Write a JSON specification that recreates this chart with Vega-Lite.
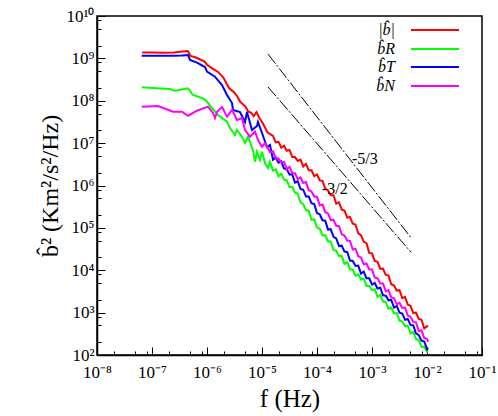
{
"$schema":"https://vega.github.io/schema/vega-lite/v6.json",
"width":385,"height":339,
"autosize":{"type":"none"},
"padding":{"left":97,"top":16,"right":16,"bottom":61},
"config":{"view":{"stroke":"black","strokeWidth":1.5},"font":"Liberation Serif"},
"datasets":{
"spectra":[
{"series":"|b\u0302|","f":6.607e-8,"P":1.380e9},{"series":"|b\u0302|","f":1e-7,"P":1.380e9},{"series":"|b\u0302|","f":1.585e-7,"P":1.365e9},{"series":"|b\u0302|","f":2.512e-7,"P":1.380e9},{"series":"|b\u0302|","f":3.548e-7,"P":1.445e9},{"series":"|b\u0302|","f":4.467e-7,"P":1.496e9},{"series":"|b\u0302|","f":5.012e-7,"P":1.148e9},{"series":"|b\u0302|","f":6.310e-7,"P":1.047e9},{"series":"|b\u0302|","f":8.913e-7,"P":8.511e8},{"series":"|b\u0302|","f":1e-6,"P":7.079e8},{"series":"|b\u0302|","f":1.259e-6,"P":5.754e8},{"series":"|b\u0302|","f":1.585e-6,"P":4.786e8},{"series":"|b\u0302|","f":1.995e-6,"P":3.467e8},{"series":"|b\u0302|","f":2.512e-6,"P":1.995e8},{"series":"|b\u0302|","f":3.162e-6,"P":1.549e8},{"series":"|b\u0302|","f":3.548e-6,"P":1.259e8},{"series":"|b\u0302|","f":3.981e-6,"P":9.550e7},{"series":"|b\u0302|","f":4.467e-6,"P":8.318e7},{"series":"|b\u0302|","f":5.012e-6,"P":7.244e7},{"series":"|b\u0302|","f":5.623e-6,"P":5.495e7},{"series":"|b\u0302|","f":6.310e-6,"P":5.248e7},{"series":"|b\u0302|","f":7.079e-6,"P":4.365e7},{"series":"|b\u0302|","f":7.943e-6,"P":5.370e7},{"series":"|b\u0302|","f":8.913e-6,"P":3.981e7},{"series":"|b\u0302|","f":1e-5,"P":3.162e7},{"series":"|b\u0302|","f":1.122e-5,"P":2.399e7},{"series":"|b\u0302|","f":1.259e-5,"P":1.778e7},{"series":"|b\u0302|","f":1.413e-5,"P":1.622e7},
{"series":"|b\u0302|","f":1.585e-5,"P":1.479e7},{"series":"|b\u0302|","f":1.778e-5,"P":1.047e7},{"series":"|b\u0302|","f":1.995e-5,"P":1.072e7},{"series":"|b\u0302|","f":2.239e-5,"P":7.762e6},{"series":"|b\u0302|","f":2.512e-5,"P":8.710e6},{"series":"|b\u0302|","f":2.818e-5,"P":6.607e6},{"series":"|b\u0302|","f":3.162e-5,"P":6.918e6},{"series":"|b\u0302|","f":3.548e-5,"P":4.677e6},{"series":"|b\u0302|","f":3.981e-5,"P":4.677e6},{"series":"|b\u0302|","f":4.467e-5,"P":3.802e6},{"series":"|b\u0302|","f":5.012e-5,"P":4.074e6},{"series":"|b\u0302|","f":5.623e-5,"P":2.818e6},{"series":"|b\u0302|","f":6.310e-5,"P":3.236e6},{"series":"|b\u0302|","f":7.079e-5,"P":2.291e6},{"series":"|b\u0302|","f":7.943e-5,"P":2.291e6},{"series":"|b\u0302|","f":8.913e-5,"P":1.660e6},{"series":"|b\u0302|","f":1e-4,"P":1.820e6},{"series":"|b\u0302|","f":1.122e-4,"P":1.318e6},{"series":"|b\u0302|","f":1.259e-4,"P":1.288e6},{"series":"|b\u0302|","f":1.413e-4,"P":8.318e5},{"series":"|b\u0302|","f":1.585e-4,"P":7.762e5},{"series":"|b\u0302|","f":1.778e-4,"P":5.888e5},{"series":"|b\u0302|","f":1.995e-4,"P":5.888e5},{"series":"|b\u0302|","f":2.239e-4,"P":3.715e5},{"series":"|b\u0302|","f":2.512e-4,"P":3.981e5},{"series":"|b\u0302|","f":2.818e-4,"P":2.692e5},{"series":"|b\u0302|","f":3.162e-4,"P":2.570e5},{"series":"|b\u0302|","f":3.548e-4,"P":1.738e5},{"series":"|b\u0302|","f":3.981e-4,"P":1.820e5},{"series":"|b\u0302|","f":4.467e-4,"P":1.259e5},{"series":"|b\u0302|","f":5.012e-4,"P":1.202e5},{"series":"|b\u0302|","f":5.623e-4,"P":7.413e4},{"series":"|b\u0302|","f":6.310e-4,"P":6.761e4},{"series":"|b\u0302|","f":7.079e-4,"P":4.677e4},{"series":"|b\u0302|","f":7.943e-4,"P":4.365e4},{"series":"|b\u0302|","f":8.913e-4,"P":2.570e4},{"series":"|b\u0302|","f":1e-3,"P":2.512e4},{"series":"|b\u0302|","f":1.122e-3,"P":1.660e4},{"series":"|b\u0302|","f":1.259e-3,"P":1.585e4},{"series":"|b\u0302|","f":1.413e-3,"P":1.072e4},{"series":"|b\u0302|","f":1.585e-3,"P":1.096e4},{"series":"|b\u0302|","f":1.778e-3,"P":7.762e3},{"series":"|b\u0302|","f":1.995e-3,"P":7.586e3},{"series":"|b\u0302|","f":2.239e-3,"P":4.677e3},{"series":"|b\u0302|","f":2.512e-3,"P":4.365e3},{"series":"|b\u0302|","f":2.818e-3,"P":3.311e3},{"series":"|b\u0302|","f":3.162e-3,"P":3.388e3},{"series":"|b\u0302|","f":3.548e-3,"P":2.188e3},{"series":"|b\u0302|","f":3.981e-3,"P":2.344e3},{"series":"|b\u0302|","f":4.467e-3,"P":1.549e3},{"series":"|b\u0302|","f":5.012e-3,"P":1.445e3},{"series":"|b\u0302|","f":5.623e-3,"P":977},{"series":"|b\u0302|","f":6.310e-3,"P":1000},{"series":"|b\u0302|","f":7.079e-3,"P":708},{"series":"|b\u0302|","f":7.943e-3,"P":676},{"series":"|b\u0302|","f":8.913e-3,"P":427},{"series":"|b\u0302|","f":1e-2,"P":479},{"series":"|b\u0302|","f":1.047e-2,"P":468},
{"series":"b\u0302R","f":6.50e-8,"P":2.075e8},{"series":"b\u0302R","f":1.233e-7,"P":1.968e8},{"series":"b\u0302R","f":2.123e-7,"P":1.892e8},{"series":"b\u0302R","f":2.618e-7,"P":1.726e8},{"series":"b\u0302R","f":4.519e-7,"P":1.968e8},{"series":"b\u0302R","f":5.559e-7,"P":1.368e8},{"series":"b\u0302R","f":8.453e-7,"P":1.143e8},{"series":"b\u0302R","f":1e-6,"P":9.506e7},{"series":"b\u0302R","f":1.233e-6,"P":6.745e7},{"series":"b\u0302R","f":1.585e-6,"P":4.613e7},{"series":"b\u0302R","f":2.312e-6,"P":3.206e7},{"series":"b\u0302R","f":2.618e-6,"P":2.275e7},{"series":"b\u0302R","f":3.228e-6,"P":1.556e7},{"series":"b\u0302R","f":3.508e-6,"P":2.042e7},{"series":"b\u0302R","f":4.325e-6,"P":1.419e7},{"series":"b\u0302R","f":4.909e-6,"P":1.007e7},{"series":"b\u0302R","f":5.559e-6,"P":1.419e7},{"series":"b\u0302R","f":6.855e-6,"P":6.887e6},{"series":"b\u0302R","f":7.464e-6,"P":3.648e6},{"series":"b\u0302R","f":8.110e-6,"P":6.281e6},{"series":"b\u0302R","f":9.204e-6,"P":4.0e6},{"series":"b\u0302R","f":1e-5,"P":6.281e6},{"series":"b\u0302R","f":1.135e-5,"P":3.396e6},{"series":"b\u0302R","f":1.285e-5,"P":2.588e6},{"series":"b\u0302R","f":1.396e-5,"P":3.648e6},
{"series":"b\u0302R","f":1.585e-5,"P":2.239e6},{"series":"b\u0302R","f":1.778e-5,"P":2.399e6},{"series":"b\u0302R","f":1.995e-5,"P":1.660e6},{"series":"b\u0302R","f":2.239e-5,"P":1.905e6},{"series":"b\u0302R","f":2.512e-5,"P":1.380e6},{"series":"b\u0302R","f":2.818e-5,"P":1.318e6},{"series":"b\u0302R","f":3.162e-5,"P":9.120e5},{"series":"b\u0302R","f":3.548e-5,"P":9.333e5},{"series":"b\u0302R","f":3.981e-5,"P":6.761e5},{"series":"b\u0302R","f":4.467e-5,"P":6.457e5},{"series":"b\u0302R","f":5.012e-5,"P":3.981e5},{"series":"b\u0302R","f":5.623e-5,"P":3.631e5},{"series":"b\u0302R","f":6.310e-5,"P":2.630e5},{"series":"b\u0302R","f":7.079e-5,"P":2.512e5},{"series":"b\u0302R","f":7.943e-5,"P":1.549e5},{"series":"b\u0302R","f":8.913e-5,"P":1.585e5},{"series":"b\u0302R","f":1e-4,"P":1.023e5},{"series":"b\u0302R","f":1.122e-4,"P":9.550e4},{"series":"b\u0302R","f":1.259e-4,"P":6.607e4},{"series":"b\u0302R","f":1.413e-4,"P":6.761e4},{"series":"b\u0302R","f":1.585e-4,"P":4.786e4},{"series":"b\u0302R","f":1.778e-4,"P":4.786e4},{"series":"b\u0302R","f":1.995e-4,"P":3.020e4},{"series":"b\u0302R","f":2.239e-4,"P":2.884e4},{"series":"b\u0302R","f":2.512e-4,"P":2.138e4},{"series":"b\u0302R","f":2.818e-4,"P":2.188e4},{"series":"b\u0302R","f":3.162e-4,"P":1.413e4},{"series":"b\u0302R","f":3.548e-4,"P":1.549e4},{"series":"b\u0302R","f":3.981e-4,"P":1.047e4},{"series":"b\u0302R","f":4.467e-4,"P":1.047e4},{"series":"b\u0302R","f":5.012e-4,"P":7.413e3},{"series":"b\u0302R","f":5.623e-4,"P":8.128e3},{"series":"b\u0302R","f":6.310e-4,"P":6.026e3},{"series":"b\u0302R","f":7.079e-4,"P":6.310e3},{"series":"b\u0302R","f":7.943e-4,"P":4.266e3},{"series":"b\u0302R","f":8.913e-4,"P":4.266e3},{"series":"b\u0302R","f":1e-3,"P":3.388e3},{"series":"b\u0302R","f":1.122e-3,"P":3.548e3},{"series":"b\u0302R","f":1.259e-3,"P":2.344e3},{"series":"b\u0302R","f":1.413e-3,"P":2.630e3},{"series":"b\u0302R","f":1.585e-3,"P":1.820e3},{"series":"b\u0302R","f":1.778e-3,"P":1.778e3},{"series":"b\u0302R","f":1.995e-3,"P":1.230e3},{"series":"b\u0302R","f":2.239e-3,"P":1.318e3},{"series":"b\u0302R","f":2.512e-3,"P":955},{"series":"b\u0302R","f":2.818e-3,"P":977},{"series":"b\u0302R","f":3.162e-3,"P":646},{"series":"b\u0302R","f":3.548e-3,"P":617},{"series":"b\u0302R","f":3.981e-3,"P":479},{"series":"b\u0302R","f":4.467e-3,"P":490},{"series":"b\u0302R","f":5.012e-3,"P":324},{"series":"b\u0302R","f":5.623e-3,"P":347},{"series":"b\u0302R","f":6.310e-3,"P":240},{"series":"b\u0302R","f":7.079e-3,"P":224},{"series":"b\u0302R","f":7.943e-3,"P":155},{"series":"b\u0302R","f":8.913e-3,"P":158},{"series":"b\u0302R","f":1e-2,"P":120},{"series":"b\u0302R","f":1.047e-2,"P":117},
{"series":"b\u0302T","f":6.50e-8,"P":1.156e9},{"series":"b\u0302T","f":1.233e-7,"P":1.148e9},{"series":"b\u0302T","f":2.410e-7,"P":1.161e9},{"series":"b\u0302T","f":3.508e-7,"P":1.175e9},{"series":"b\u0302T","f":4.519e-7,"P":1.202e9},{"series":"b\u0302T","f":4.909e-7,"P":9.162e8},{"series":"b\u0302T","f":6.577e-7,"P":7.943e8},{"series":"b\u0302T","f":9.204e-7,"P":6.252e8},{"series":"b\u0302T","f":1e-6,"P":4.853e8},{"series":"b\u0302T","f":1.396e-6,"P":3.698e8},{"series":"b\u0302T","f":1.875e-6,"P":2.355e8},{"series":"b\u0302T","f":2.312e-6,"P":1.368e8},{"series":"b\u0302T","f":2.851e-6,"P":8.851e7},{"series":"b\u0302T","f":2.972e-6,"P":6.053e7},{"series":"b\u0302T","f":3.981e-6,"P":5.420e7},{"series":"b\u0302T","f":4.909e-6,"P":3.155e7},{"series":"b\u0302T","f":5.333e-6,"P":5.420e7},{"series":"b\u0302T","f":6.577e-6,"P":2.042e7},{"series":"b\u0302T","f":8.110e-6,"P":2.535e7},{"series":"b\u0302T","f":8.453e-6,"P":3.155e7},{"series":"b\u0302T","f":1e-5,"P":1.734e7},{"series":"b\u0302T","f":1.233e-5,"P":8.110e6},{"series":"b\u0302T","f":1.396e-5,"P":9.036e6},
{"series":"b\u0302T","f":1.585e-5,"P":4.074e6},{"series":"b\u0302T","f":1.778e-5,"P":4.571e6},{"series":"b\u0302T","f":1.995e-5,"P":3.467e6},{"series":"b\u0302T","f":2.239e-5,"P":3.715e6},{"series":"b\u0302T","f":2.512e-5,"P":2.512e6},{"series":"b\u0302T","f":2.818e-5,"P":2.399e6},{"series":"b\u0302T","f":3.162e-5,"P":1.820e6},{"series":"b\u0302T","f":3.548e-5,"P":1.820e6},{"series":"b\u0302T","f":3.981e-5,"P":1.175e6},{"series":"b\u0302T","f":4.467e-5,"P":1.259e6},{"series":"b\u0302T","f":5.012e-5,"P":8.318e5},{"series":"b\u0302T","f":5.623e-5,"P":7.943e5},{"series":"b\u0302T","f":6.310e-5,"P":5.495e5},{"series":"b\u0302T","f":7.079e-5,"P":5.495e5},{"series":"b\u0302T","f":7.943e-5,"P":3.802e5},{"series":"b\u0302T","f":8.913e-5,"P":3.631e5},{"series":"b\u0302T","f":1e-4,"P":2.239e5},{"series":"b\u0302T","f":1.122e-4,"P":2.089e5},{"series":"b\u0302T","f":1.259e-4,"P":1.514e5},{"series":"b\u0302T","f":1.413e-4,"P":1.479e5},{"series":"b\u0302T","f":1.585e-4,"P":9.120e4},{"series":"b\u0302T","f":1.778e-4,"P":9.333e4},{"series":"b\u0302T","f":1.995e-4,"P":6.166e4},{"series":"b\u0302T","f":2.239e-4,"P":5.623e4},{"series":"b\u0302T","f":2.512e-4,"P":3.715e4},{"series":"b\u0302T","f":2.818e-4,"P":3.802e4},{"series":"b\u0302T","f":3.162e-4,"P":2.754e4},{"series":"b\u0302T","f":3.548e-4,"P":2.692e4},{"series":"b\u0302T","f":3.981e-4,"P":1.698e4},{"series":"b\u0302T","f":4.467e-4,"P":1.660e4},{"series":"b\u0302T","f":5.012e-4,"P":1.259e4},{"series":"b\u0302T","f":5.623e-4,"P":1.288e4},{"series":"b\u0302T","f":6.310e-4,"P":8.318e3},{"series":"b\u0302T","f":7.079e-4,"P":9.333e3},{"series":"b\u0302T","f":7.943e-4,"P":6.457e3},{"series":"b\u0302T","f":8.913e-4,"P":6.457e3},{"series":"b\u0302T","f":1e-3,"P":4.571e3},{"series":"b\u0302T","f":1.122e-3,"P":5.012e3},{"series":"b\u0302T","f":1.259e-3,"P":3.715e3},{"series":"b\u0302T","f":1.413e-3,"P":3.890e3},{"series":"b\u0302T","f":1.585e-3,"P":2.570e3},{"series":"b\u0302T","f":1.778e-3,"P":2.512e3},{"series":"b\u0302T","f":1.995e-3,"P":1.950e3},{"series":"b\u0302T","f":2.239e-3,"P":1.995e3},{"series":"b\u0302T","f":2.512e-3,"P":1.318e3},{"series":"b\u0302T","f":2.818e-3,"P":1.445e3},{"series":"b\u0302T","f":3.162e-3,"P":1000},{"series":"b\u0302T","f":3.548e-3,"P":955},{"series":"b\u0302T","f":3.981e-3,"P":676},{"series":"b\u0302T","f":4.467e-3,"P":708},{"series":"b\u0302T","f":5.012e-3,"P":513},{"series":"b\u0302T","f":5.623e-3,"P":501},{"series":"b\u0302T","f":6.310e-3,"P":324},{"series":"b\u0302T","f":7.079e-3,"P":295},{"series":"b\u0302T","f":7.943e-3,"P":219},{"series":"b\u0302T","f":8.913e-3,"P":209},{"series":"b\u0302T","f":1e-2,"P":138},{"series":"b\u0302T","f":1.047e-2,"P":148},
{"series":"b\u0302N","f":6.50e-8,"P":7.244e7},{"series":"b\u0302N","f":1.285e-7,"P":7.516e7},{"series":"b\u0302N","f":2.410e-7,"P":5.521e7},{"series":"b\u0302N","f":3.508e-7,"P":5.521e7},{"series":"b\u0302N","f":4.519e-7,"P":4.436e7},{"series":"b\u0302N","f":6.577e-7,"P":5.821e7},{"series":"b\u0302N","f":1.042e-6,"P":7.244e7},{"series":"b\u0302N","f":1.285e-6,"P":5.140e7},{"series":"b\u0302N","f":1.396e-6,"P":3.917e7},{"series":"b\u0302N","f":1.521e-6,"P":5.521e7},{"series":"b\u0302N","f":1.875e-6,"P":7.112e7},{"series":"b\u0302N","f":2.312e-6,"P":4.207e7},{"series":"b\u0302N","f":2.851e-6,"P":6.053e7},{"series":"b\u0302N","f":3.508e-6,"P":3.516e7},{"series":"b\u0302N","f":4.325e-6,"P":3.917e7},{"series":"b\u0302N","f":4.909e-6,"P":2.042e7},{"series":"b\u0302N","f":6.053e-6,"P":1.419e7},{"series":"b\u0302N","f":7.464e-6,"P":1.862e7},{"series":"b\u0302N","f":8.453e-6,"P":1.186e7},{"series":"b\u0302N","f":1e-5,"P":8.241e6},{"series":"b\u0302N","f":1.135e-5,"P":1.007e7},{"series":"b\u0302N","f":1.396e-5,"P":6.180e6},
{"series":"b\u0302N","f":1.585e-5,"P":6.457e6},{"series":"b\u0302N","f":1.778e-5,"P":4.365e6},{"series":"b\u0302N","f":1.995e-5,"P":4.365e6},{"series":"b\u0302N","f":2.239e-5,"P":3.467e6},{"series":"b\u0302N","f":2.512e-5,"P":3.631e6},{"series":"b\u0302N","f":2.818e-5,"P":2.455e6},{"series":"b\u0302N","f":3.162e-5,"P":2.754e6},{"series":"b\u0302N","f":3.548e-5,"P":1.950e6},{"series":"b\u0302N","f":3.981e-5,"P":1.950e6},{"series":"b\u0302N","f":4.467e-5,"P":1.413e6},{"series":"b\u0302N","f":5.012e-5,"P":1.549e6},{"series":"b\u0302N","f":5.623e-5,"P":1.148e6},{"series":"b\u0302N","f":6.310e-5,"P":1.202e6},{"series":"b\u0302N","f":7.079e-5,"P":7.762e5},{"series":"b\u0302N","f":7.943e-5,"P":7.244e5},{"series":"b\u0302N","f":8.913e-5,"P":5.495e5},{"series":"b\u0302N","f":1e-4,"P":5.370e5},{"series":"b\u0302N","f":1.122e-4,"P":3.388e5},{"series":"b\u0302N","f":1.259e-4,"P":3.548e5},{"series":"b\u0302N","f":1.413e-4,"P":2.344e5},{"series":"b\u0302N","f":1.585e-4,"P":2.188e5},{"series":"b\u0302N","f":1.778e-4,"P":1.514e5},{"series":"b\u0302N","f":1.995e-4,"P":1.549e5},{"series":"b\u0302N","f":2.239e-4,"P":1.122e5},{"series":"b\u0302N","f":2.512e-4,"P":1.096e5},{"series":"b\u0302N","f":2.818e-4,"P":7.079e4},{"series":"b\u0302N","f":3.162e-4,"P":6.607e4},{"series":"b\u0302N","f":3.548e-4,"P":5.012e4},{"series":"b\u0302N","f":3.981e-4,"P":4.898e4},{"series":"b\u0302N","f":4.467e-4,"P":3.090e4},{"series":"b\u0302N","f":5.012e-4,"P":3.236e4},{"series":"b\u0302N","f":5.623e-4,"P":2.138e4},{"series":"b\u0302N","f":6.310e-4,"P":1.995e4},{"series":"b\u0302N","f":7.079e-4,"P":1.380e4},{"series":"b\u0302N","f":7.943e-4,"P":1.445e4},{"series":"b\u0302N","f":8.913e-4,"P":1.047e4},{"series":"b\u0302N","f":1e-3,"P":1.047e4},{"series":"b\u0302N","f":1.122e-3,"P":6.761e3},{"series":"b\u0302N","f":1.259e-3,"P":6.457e3},{"series":"b\u0302N","f":1.413e-3,"P":4.898e3},{"series":"b\u0302N","f":1.585e-3,"P":4.898e3},{"series":"b\u0302N","f":1.778e-3,"P":3.162e3},{"series":"b\u0302N","f":1.995e-3,"P":3.388e3},{"series":"b\u0302N","f":2.239e-3,"P":2.291e3},{"series":"b\u0302N","f":2.512e-3,"P":2.188e3},{"series":"b\u0302N","f":2.818e-3,"P":1.585e3},{"series":"b\u0302N","f":3.162e-3,"P":1.698e3},{"series":"b\u0302N","f":3.548e-3,"P":1.288e3},{"series":"b\u0302N","f":3.981e-3,"P":1.318e3},{"series":"b\u0302N","f":4.467e-3,"P":851},{"series":"b\u0302N","f":5.012e-3,"P":794},{"series":"b\u0302N","f":5.623e-3,"P":603},{"series":"b\u0302N","f":6.310e-3,"P":589},{"series":"b\u0302N","f":7.079e-3,"P":372},{"series":"b\u0302N","f":7.943e-3,"P":380},{"series":"b\u0302N","f":8.913e-3,"P":251},{"series":"b\u0302N","f":1e-2,"P":240},{"series":"b\u0302N","f":1.047e-2,"P":204}
],
"slopes":[
{"line":"-5/3","f":1.288e-5,"P":1.259e9},{"line":"-5/3","f":5.129e-3,"P":5.848e4},
{"line":"-3/2","f":1.288e-5,"P":2.109e8},{"line":"-3/2","f":5.129e-3,"P":2.655e4}
],
"slopeLabels":[
{"label":"-5/3","f":4.325e-4,"P":4.335e6},
{"label":"-3/2","f":1.233e-4,"P":8.26e5}
]
},
"layer":[
{"data":{"name":"spectra"},
 "mark":{"type":"line","strokeWidth":2,"clip":true},
 "encoding":{
  "x":{"field":"f","type":"quantitative","scale":{"type":"log","domain":[1e-8,0.1],"nice":false},
   "axis":{"title":"f (Hz)","values":[1e-8,2e-8,5e-8,8e-8,1e-7,2e-7,5e-7,8e-7,1e-6,2e-6,5e-6,8e-6,1e-5,2e-5,5e-5,8e-5,1e-4,2e-4,5e-4,8e-4,1e-3,2e-3,5e-3,8e-3,1e-2,2e-2,5e-2,8e-2,1e-1],
    "labelExpr":"abs(log(datum.value)/LN10 - round(log(datum.value)/LN10)) > 0.01 ? '' : '10\u207b' + ['\u2070','\u00b9','\u00b2','\u00b3','\u2074','\u2075','\u2076','\u2077','\u2078','\u2079'][-round(log(datum.value)/LN10)]",
    "tickSize":{"condition":{"test":"abs(log(datum.value)/LN10 - round(log(datum.value)/LN10)) < 0.01","value":-8},"value":-4},
    "tickColor":"black","tickWidth":1,"domainColor":"black","domainWidth":1.5,"grid":false,
    "labelFontSize":17,"labelColor":"black","labelPadding":17,"labelFlush":false,"labelOverlap":false,
    "titleFontSize":25,"titleFontWeight":"normal","titleColor":"black","titlePadding":2}},
  "y":{"field":"P","type":"quantitative","scale":{"type":"log","domain":[100,1e10],"nice":false},
   "axis":{"title":"b\u0302\u00b2 (Km\u00b2/s\u00b2/Hz)","values":[1e2,2e2,5e2,8e2,1e3,2e3,5e3,8e3,1e4,2e4,5e4,8e4,1e5,2e5,5e5,8e5,1e6,2e6,5e6,8e6,1e7,2e7,5e7,8e7,1e8,2e8,5e8,8e8,1e9,2e9,5e9,8e9,1e10],
    "labelExpr":"abs(log(datum.value)/LN10 - round(log(datum.value)/LN10)) > 0.01 ? '' : '10' + (round(log(datum.value)/LN10) == 10 ? '\u00b9\u2070' : ['\u2070','\u00b9','\u00b2','\u00b3','\u2074','\u2075','\u2076','\u2077','\u2078','\u2079'][round(log(datum.value)/LN10)])",
    "tickSize":{"condition":{"test":"abs(log(datum.value)/LN10 - round(log(datum.value)/LN10)) < 0.01","value":-8},"value":-4},
    "tickColor":"black","tickWidth":1,"domainColor":"black","domainWidth":1.5,"grid":false,
    "labelFontSize":17,"labelColor":"black","labelPadding":11,"labelFlush":false,"labelOverlap":false,
    "titleFontSize":24,"titleFontWeight":"normal","titleColor":"black","titlePadding":3}},
  "color":{"field":"series","type":"nominal",
   "scale":{"domain":["|b\u0302|","b\u0302R","b\u0302T","b\u0302N"],"range":["#ff0000","#00ff00","#0000ff","#ff00ff"]},
   "legend":null}
 }},
{"data":{"name":"slopes"},
 "mark":{"type":"line","color":"black","strokeWidth":1,"strokeDash":[12,2,2,2]},
 "encoding":{"x":{"field":"f","type":"quantitative"},"y":{"field":"P","type":"quantitative"},"detail":{"field":"line","type":"nominal"}}},
{"data":{"name":"slopeLabels"},
 "mark":{"type":"text","align":"left","baseline":"middle","fontSize":16,"color":"black"},
 "encoding":{"x":{"field":"f","type":"quantitative"},"y":{"field":"P","type":"quantitative"},"text":{"field":"label","type":"nominal"}}},
{"data":{"values":[{"series":"|b\u0302|"}]},
 "layer":[
  {"mark":{"type":"rule","strokeWidth":2},"encoding":{"x":{"datum":5.118e-3},"x2":{"datum":3.818e-2},"y":{"datum":4.673e9},"color":{"field":"series","type":"nominal","legend":null}}},
  {"mark":{"type":"text","align":"right","baseline":"middle","fontSize":16,"fontStyle":"italic","color":"black"},"encoding":{"x":{"datum":2.619e-3},"y":{"datum":4.673e9},"text":{"field":"series","type":"nominal"}}}
 ]},
{"data":{"values":[{"series":"b\u0302R"}]},
 "layer":[
  {"mark":{"type":"rule","strokeWidth":2},"encoding":{"x":{"datum":5.118e-3},"x2":{"datum":3.818e-2},"y":{"datum":1.664e9},"color":{"field":"series","type":"nominal","legend":null}}},
  {"mark":{"type":"text","align":"right","baseline":"middle","fontSize":16,"fontStyle":"italic","color":"black"},"encoding":{"x":{"datum":2.619e-3},"y":{"datum":1.664e9},"text":{"field":"series","type":"nominal"}}}
 ]},
{"data":{"values":[{"series":"b\u0302T"}]},
 "layer":[
  {"mark":{"type":"rule","strokeWidth":2},"encoding":{"x":{"datum":5.118e-3},"x2":{"datum":3.818e-2},"y":{"datum":6.259e8},"color":{"field":"series","type":"nominal","legend":null}}},
  {"mark":{"type":"text","align":"right","baseline":"middle","fontSize":16,"fontStyle":"italic","color":"black"},"encoding":{"x":{"datum":2.619e-3},"y":{"datum":6.259e8},"text":{"field":"series","type":"nominal"}}}
 ]},
{"data":{"values":[{"series":"b\u0302N"}]},
 "layer":[
  {"mark":{"type":"rule","strokeWidth":2},"encoding":{"x":{"datum":5.118e-3},"x2":{"datum":3.818e-2},"y":{"datum":2.229e8},"color":{"field":"series","type":"nominal","legend":null}}},
  {"mark":{"type":"text","align":"right","baseline":"middle","fontSize":16,"fontStyle":"italic","color":"black"},"encoding":{"x":{"datum":2.619e-3},"y":{"datum":2.229e8},"text":{"field":"series","type":"nominal"}}}
 ]}
]
}
